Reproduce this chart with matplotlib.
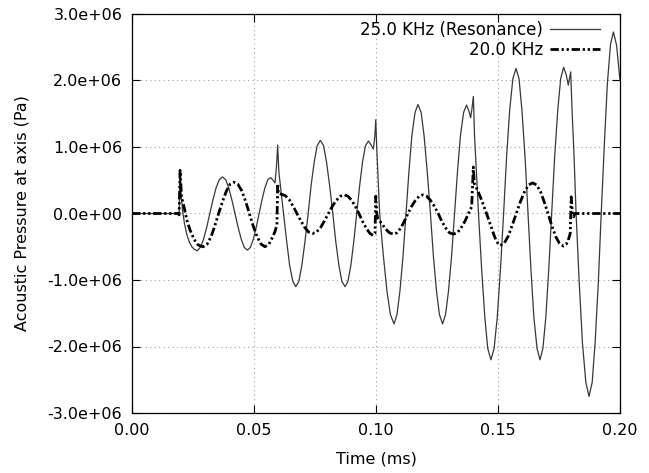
import matplotlib
matplotlib.use("Agg")
import matplotlib.pyplot as plt
from matplotlib.ticker import FormatStrFormatter

# time in ms, pressure in 1e6 Pa
t_res = [0.0, 0.0190, 0.0193, 0.0197, 0.0201, 0.0207, 0.0215, 0.0225, 0.0235, 0.0245, 0.0256, 0.0267,
         0.0280, 0.0293, 0.0306, 0.0319, 0.0332, 0.0345, 0.0358, 0.0371,
         0.0384, 0.0396, 0.0409, 0.0422, 0.0435, 0.0448, 0.0460, 0.0473,
         0.0485, 0.0497, 0.0509, 0.0521, 0.0533, 0.0545, 0.0557, 0.0568,
         0.0578, 0.0586, 0.0592, 0.0597, 0.0602, 0.0608, 0.0614, 0.0621,
         0.0634, 0.0646, 0.0659, 0.0671,
         0.0684, 0.0696, 0.0709, 0.0722, 0.0734, 0.0747, 0.0759, 0.0772,
         0.0785, 0.0797, 0.0810, 0.0823, 0.0835, 0.0848, 0.0860, 0.0873,
         0.0885, 0.0897, 0.0909, 0.0921, 0.0933, 0.0945, 0.0957, 0.0969,
         0.0980, 0.0989, 0.0995, 0.0999, 0.1004, 0.1009, 0.1015,
         0.1030, 0.1045, 0.1059, 0.1074,
         0.1086, 0.1098, 0.1111, 0.1123, 0.1135, 0.1147, 0.1160, 0.1172,
         0.1185, 0.1197, 0.1210, 0.1223, 0.1235, 0.1248, 0.1260, 0.1273,
         0.1285, 0.1297, 0.1310, 0.1322, 0.1334, 0.1346, 0.1359, 0.1371,
         0.1380, 0.1388, 0.1394, 0.1399, 0.1404, 0.1412, 0.1420,
         0.1433, 0.1446, 0.1458, 0.1471,
         0.1484, 0.1497, 0.1510, 0.1523, 0.1535, 0.1548, 0.1561, 0.1574,
         0.1586, 0.1598, 0.1611, 0.1623, 0.1635, 0.1647, 0.1660, 0.1672,
         0.1684, 0.1696, 0.1708, 0.1720, 0.1732, 0.1745, 0.1757, 0.1769,
         0.1780, 0.1788, 0.1794, 0.1798, 0.1803, 0.1811, 0.1820,
         0.1833, 0.1846, 0.1860, 0.1873,
         0.1886, 0.1898, 0.1911, 0.1923, 0.1936, 0.1948, 0.1961, 0.1973,
         0.1986, 0.2000]
p_res = [0.0, 0.0, -0.03, 0.65, 0.30, 0.05, -0.15, -0.32, -0.43, -0.50, -0.54, -0.56,
         -0.51, -0.39, -0.21, 0.0, 0.21, 0.39, 0.51, 0.55,
         0.51, 0.39, 0.21, 0.0, -0.21, -0.39, -0.51, -0.55,
         -0.51, -0.39, -0.21, 0.0, 0.21, 0.39, 0.51, 0.54,
         0.50, 0.46, 0.70, 1.03, 0.62, 0.42, 0.21, 0.0,
         -0.42, -0.78, -1.02, -1.10,
         -1.02, -0.78, -0.42, 0.0, 0.42, 0.78, 1.02, 1.10,
         1.02, 0.78, 0.42, 0.0, -0.42, -0.78, -1.02, -1.10,
         -1.02, -0.78, -0.42, 0.0, 0.42, 0.78, 1.02, 1.09,
         1.03, 0.97, 1.15, 1.41, 0.90, 0.50, 0.0,
         -0.63, -1.17, -1.52, -1.66,
         -1.52, -1.17, -0.63, 0.0, 0.63, 1.17, 1.52, 1.64,
         1.52, 1.17, 0.63, 0.0, -0.63, -1.17, -1.52, -1.66,
         -1.52, -1.17, -0.63, 0.0, 0.63, 1.17, 1.52, 1.63,
         1.55, 1.44, 1.60, 1.76, 1.15, 0.60, 0.0,
         -0.84, -1.56, -2.03, -2.20,
         -2.03, -1.56, -0.84, 0.0, 0.84, 1.56, 2.03, 2.18,
         2.03, 1.56, 0.84, 0.0, -0.84, -1.56, -2.03, -2.20,
         -2.03, -1.56, -0.84, 0.0, 0.84, 1.56, 2.03, 2.20,
         2.08, 1.93, 2.05, 2.13, 1.60, 0.93, 0.0,
         -1.05, -1.94, -2.54, -2.75,
         -2.54, -1.94, -1.05, 0.0, 1.05, 1.94, 2.54, 2.73,
         2.53, 2.00]

t_20 = [0.0, 0.0190, 0.0193, 0.0197, 0.0203, 0.0212, 0.0225, 0.0238, 0.0250, 0.0261, 0.0270, 0.0281, 0.0292,
        0.0308, 0.0324, 0.0339, 0.0355, 0.0371, 0.0387, 0.0402, 0.0418,
        0.0434, 0.0450, 0.0466, 0.0481, 0.0497, 0.0513, 0.0529, 0.0545,
        0.0561, 0.0577, 0.0586, 0.0594, 0.0597, 0.0600, 0.0612,
        0.0628, 0.0644, 0.0660, 0.0676, 0.0692, 0.0708, 0.0724, 0.0740,
        0.0756, 0.0773, 0.0789, 0.0805, 0.0821, 0.0838, 0.0854, 0.0870,
        0.0885, 0.0900, 0.0915, 0.0930, 0.0945, 0.0960, 0.0975, 0.0988, 0.0996, 0.0999, 0.1003, 0.1007,
        0.1023, 0.1039, 0.1055, 0.1071,
        0.1086, 0.1101, 0.1116, 0.1131, 0.1146, 0.1162, 0.1177, 0.1192,
        0.1208, 0.1223, 0.1239, 0.1255, 0.1270, 0.1286, 0.1301, 0.1317,
        0.1333, 0.1348, 0.1364, 0.1379, 0.1392, 0.1399, 0.1403, 0.1410,
        0.1422, 0.1433, 0.1444, 0.1455, 0.1465, 0.1474, 0.1483, 0.1492, 0.1500, 0.1508,
        0.1525, 0.1542, 0.1558, 0.1575, 0.1592, 0.1609, 0.1625, 0.1642,
        0.1658, 0.1674, 0.1689, 0.1705, 0.1721, 0.1737, 0.1752, 0.1768,
        0.1780, 0.1788, 0.1796, 0.1800, 0.1805, 0.1810, 0.1815, 0.2000]
p_20 = [0.0, 0.0, -0.02, 0.65, 0.25, 0.12, -0.10, -0.25, -0.35, -0.43, -0.47, -0.49, -0.50,
        -0.46, -0.35, -0.19, 0.0, 0.18, 0.34, 0.44, 0.47,
        0.44, 0.34, 0.18, 0.0, -0.19, -0.35, -0.46, -0.50,
        -0.46, -0.35, -0.27, -0.17, 0.45, 0.30, 0.29,
        0.27, 0.21, 0.11, 0.0, -0.11, -0.21, -0.28, -0.30,
        -0.28, -0.21, -0.11, 0.0, 0.11, 0.20, 0.26, 0.28,
        0.26, 0.20, 0.11, 0.0, -0.12, -0.22, -0.30, -0.33, -0.30, 0.26, 0.0, -0.07,
        -0.15, -0.23, -0.29, -0.31,
        -0.29, -0.22, -0.12, 0.0, 0.11, 0.20, 0.26, 0.28,
        0.26, 0.20, 0.11, 0.0, -0.12, -0.22, -0.29, -0.31,
        -0.29, -0.22, -0.12, 0.0, 0.10, 0.70, 0.45, 0.40,
        0.30, 0.20, 0.09, -0.02, -0.13, -0.22, -0.32, -0.40, -0.45, -0.48,
        -0.45, -0.34, -0.18, 0.0, 0.18, 0.33, 0.43, 0.46,
        0.43, 0.33, 0.18, 0.0, -0.19, -0.35, -0.45, -0.49,
        -0.46, -0.40, -0.30, 0.25, 0.0, -0.05, 0.0, 0.0]

labels = ["25.0 KHz (Resonance)", "20.0 KHz"]

plt.rcParams['font.family'] = 'DejaVu Sans'
plt.rcParams['font.size'] = 11.5

fig = plt.figure(figsize=(6.49, 4.73), dpi=100)
ax = fig.add_axes([132 / 649, 1 - 413 / 473, 488 / 649, 399 / 473])

ax.plot(t_res, [v * 1e6 for v in p_res], color='#383838', lw=0.9, label=labels[0])
ax.plot(t_20, [v * 1e6 for v in p_20], color='black', lw=2.0,
        linestyle=(0, (3, 1, 0.8, 1, 0.8, 1)), label=labels[1])

ax.set_xlim(0, 0.2)
ax.set_ylim(-3e6, 3e6)
ax.set_xticks([0.0, 0.05, 0.10, 0.15, 0.20])
ax.set_yticks([-3e6, -2e6, -1e6, 0, 1e6, 2e6, 3e6])
ax.xaxis.set_major_formatter(FormatStrFormatter('%.2f'))
ax.yaxis.set_major_formatter(FormatStrFormatter('%.1e'))
ax.tick_params(direction='in', length=6, width=0.8, top=True, right=True, pad=7, labelsize=11.5)
ax.grid(True, color='#a0a0a0', linestyle=(0, (1, 3)), lw=0.8)
for s in ax.spines.values():
    s.set_linewidth(0.9)

ax.set_xlabel('Time (ms)', labelpad=10)
ax.set_ylabel('Acoustic Pressure at axis (Pa)', labelpad=13)

ax.legend(loc='upper right', bbox_to_anchor=(0.972, 1.0), frameon=False, markerfirst=False,
          handlelength=3.0, handletextpad=0.4, borderaxespad=0.0, labelspacing=0.12, fontsize=12)

fig.savefig('out.png', dpi=100)
